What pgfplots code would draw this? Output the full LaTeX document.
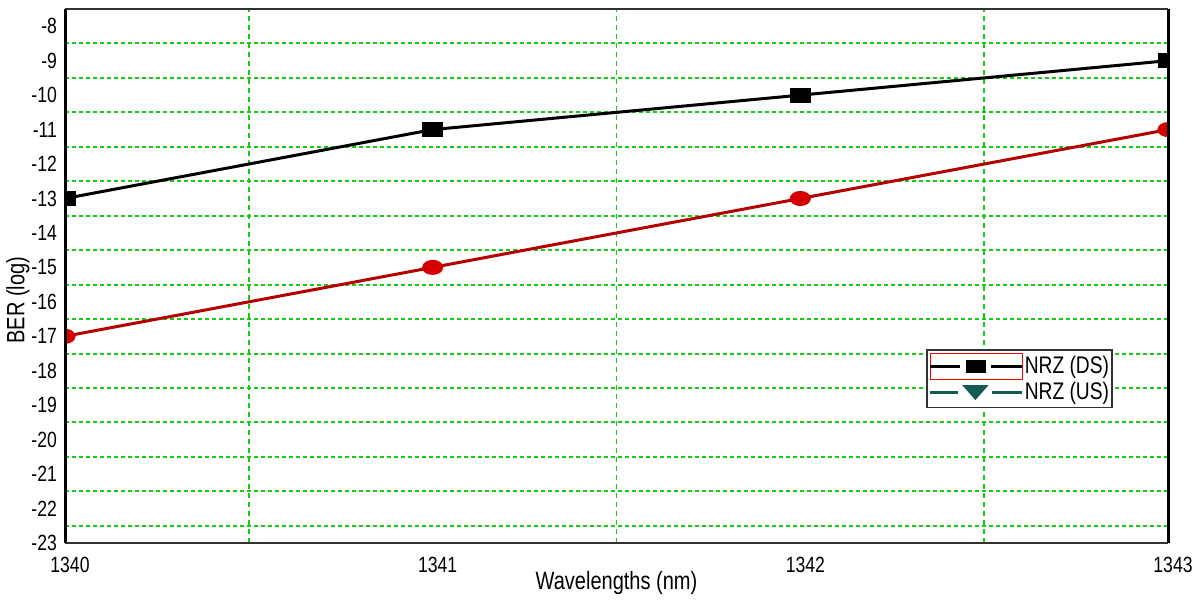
\documentclass[border=0pt]{standalone}
\usepackage{pgfplots}
\pgfplotsset{compat=1.18}
\usepackage{fontspec}
\setmainfont{Liberation Sans}[FakeStretch=0.8]
\definecolor{gridgreen}{RGB}{20,205,20}
\definecolor{usteal}{RGB}{20,90,85}
\definecolor{usred}{RGB}{180,0,0}
\definecolor{usmark}{RGB}{215,0,0}
\definecolor{bordergray}{RGB}{50,50,50}
\begin{document}
\begin{tikzpicture}
\useasboundingbox (-32.5pt,-29pt) rectangle (567pt,271.5pt);
\begin{axis}[
  scale only axis,
  width=551.5pt, height=267pt,
  xmin=1340, xmax=1343, ymin=-23, ymax=-7.5,
  xtick={1340,1341,1342,1343},
  ytick={-23,-22,...,-8},
  minor xtick={1340.5,1341.5,1342.5},
  minor ytick={-22.5,-21.5,...,-8.5},
  xminorgrids=true, yminorgrids=true,
  xmajorgrids=false, ymajorgrids=false,
  minor x grid style={gridgreen, line width=0.8pt, dash pattern=on 2.5pt off 2pt},
  minor y grid style={gridgreen, line width=1pt, dash pattern=on 2pt off 1.5pt},
  major tick length=0pt, minor tick length=0pt,
  axis line style={draw=none},
  /pgf/number format/assume math mode=true,
  /pgf/number format/1000 sep={},
  tick label style={font=\fontsize{11}{12}\selectfont, black},
  yticklabel style={xshift=-0.5pt},
  xticklabel style={anchor=center, yshift=-11pt, xshift=2.5pt},
  clip mode=individual, clip marker paths=true,
  xlabel={Wavelengths (nm)},
  ylabel={BER (log)},
  label style={font=\fontsize{12.5}{14}\selectfont},
  xlabel style={at={(axis description cs:0.5,0)}, anchor=center, yshift=-20pt},
  ylabel style={at={(axis description cs:-0.0426,0.455)}, anchor=center},
  legend cell align=left,
  legend style={at={(rel axis cs:0.95,0.363)}, anchor=north east,
    draw=bordergray, line width=0.8pt, fill=white,
    font=\fontsize{12}{13}\selectfont,
    inner xsep=1pt, inner ysep=1.5pt, row sep=0pt,
    nodes={inner xsep=0.5pt, inner ysep=1pt}},
]
\addplot[black, line width=1.5pt, mark=square*, mark size=3pt,
  mark options={xscale=1.5, solid},
  legend image code/.code={
    \draw[red, line width=0.6pt] (0pt,-6.5pt) rectangle (46pt,6.5pt);
    \draw[black, line width=1.4pt] (0pt,0pt) -- (15pt,0pt) (30.5pt,0pt) -- (46pt,0pt);
    \fill[black] (18.5pt,-2.5pt) rectangle (27pt,2.5pt);
  }]
  coordinates {(1340,-13) (1341,-11) (1342,-10) (1343,-9)};
\addlegendentry{NRZ (DS)}
\addlegendimage{legend image code/.code={
    \draw[usteal, line width=1.4pt] (0pt,0pt) -- (14pt,0pt) (31pt,0pt) -- (46pt,0pt);
    \fill[usteal] (16.75pt,3.25pt) -- (28.25pt,3.25pt) -- (22.5pt,-3.25pt) -- cycle;
  }}
\addlegendentry{NRZ (US)}
\addplot[usred, line width=1.5pt, mark=*, mark size=3pt,
  mark options={xscale=1.5, solid, fill=usmark, draw=usmark}, forget plot]
  coordinates {(1340,-17) (1341,-15) (1342,-13) (1343,-11)};
\draw[black, line width=1.5pt] (rel axis cs:0,0) -- (rel axis cs:0,1);
\draw[black, line width=1.5pt] (rel axis cs:1,0) -- (rel axis cs:1,1);
\draw[bordergray, line width=1pt] (rel axis cs:0,0) -- (rel axis cs:1,0);
\draw[bordergray, line width=1pt] (rel axis cs:0,1) -- (rel axis cs:1,1);
\end{axis}
\end{tikzpicture}
\end{document}
